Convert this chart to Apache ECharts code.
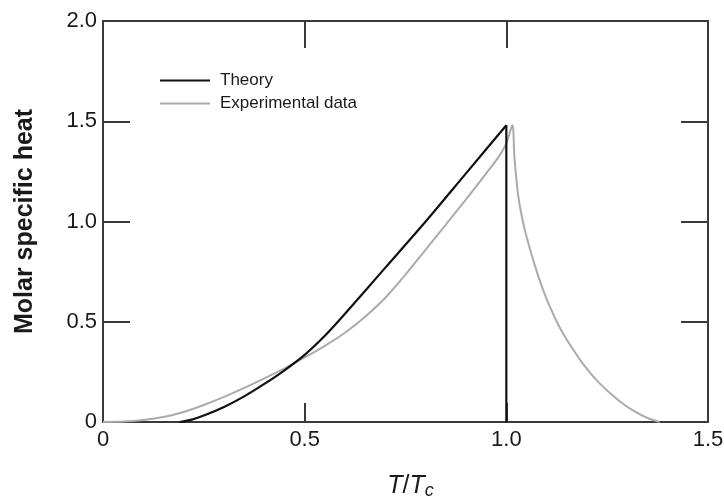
<!DOCTYPE html>
<html>
<head>
<meta charset="utf-8">
<script src="https://cdn.jsdelivr.net/npm/echarts@6/dist/echarts.min.js"></script>
<style>
  html, body { margin: 0; padding: 0; background: #fff; }
  #chart { width: 724px; height: 497px; }
</style>
</head>
<body>
<div id="chart"></div>
<script>
// Reduced temperature T/Tc and molar specific heat values
const theoryX = [0.19, 0.22, 0.25, 0.30, 0.35, 0.40, 0.45, 0.50, 0.55, 0.60, 0.70, 0.80, 0.90, 1.00];
const theoryY = [0.00, 0.012, 0.032, 0.075, 0.128, 0.19, 0.258, 0.335, 0.43, 0.54, 0.77, 1.00, 1.24, 1.48];
// Jump of the theoretical curve at T = Tc
const theoryJumpX = [1.00, 1.00];
const theoryJumpY = [1.48, 0.00];

const expX = [0.00, 0.05, 0.10, 0.15, 0.20, 0.25, 0.30, 0.35, 0.40, 0.45, 0.50, 0.55, 0.60, 0.65, 0.70, 0.75, 0.80, 0.85, 0.90, 0.95, 0.98, 1.00, 1.015,
              1.02, 1.03, 1.04, 1.05, 1.07, 1.09, 1.11, 1.13, 1.15, 1.19, 1.23, 1.28, 1.32, 1.35, 1.38];
const expY = [0.00, 0.002, 0.01, 0.025, 0.05, 0.085, 0.125, 0.17, 0.218, 0.268, 0.322, 0.38, 0.445, 0.525, 0.62, 0.735, 0.86, 0.985, 1.11, 1.24, 1.32, 1.39, 1.48,
              1.32, 1.12, 1.01, 0.925, 0.785, 0.665, 0.565, 0.48, 0.41, 0.29, 0.195, 0.105, 0.05, 0.02, 0.00];

const xTickLabels = ['0', '0.5', '1.0', '1.5'];
const yTickLabels = ['0', '0.5', '1.0', '1.5', '2.0'];

const seriesNames = ['Theory', 'Experimental data'];

const pair = (xs, ys) => xs.map((x, i) => [x, ys[i]]);

const frameColor = '#3a3a3a';
const textColor = '#1a1a1a';
const theoryColor = '#111111';
const expColor = '#ababab';
const font = 'Liberation Sans, Arial, sans-serif';

const chart = echarts.init(document.getElementById('chart'), null, { renderer: 'canvas' });

chart.setOption({
  animation: false,
  backgroundColor: '#ffffff',
  grid: { left: 103, right: 16, top: 21, bottom: 75, show: false, containLabel: false, outerBoundsMode: 'none' },
  legend: {
    orient: 'vertical',
    left: 160,
    top: 72,
    padding: 0,
    icon: 'rect',
    itemWidth: 50,
    itemHeight: 2,
    itemGap: 6,
    textStyle: { fontFamily: font, fontSize: 17, color: textColor, padding: [0, 0, 0, 5] },
    data: seriesNames
  },
  xAxis: [
    {
      type: 'value', position: 'bottom', min: 0, max: 1.5, interval: 0.5,
      axisLine: { show: true, onZero: false, lineStyle: { color: frameColor, width: 2 } },
      axisTick: { show: true, inside: true, length: 19, lineStyle: { color: frameColor, width: 2 } },
      splitLine: { show: false },
      axisLabel: {
        margin: 7, fontFamily: font, fontSize: 22, color: textColor,
        formatter: v => xTickLabels[Math.round(v / 0.5)]
      },
      name: '{i|T}{n|/}{i|T}{s|c}',
      nameLocation: 'middle',
      nameGap: 50,
      nameTextStyle: {
        padding: [0, 0, 0, 10],
        rich: {
          i: { fontFamily: font, fontSize: 25, fontStyle: 'italic', color: textColor },
          n: { fontFamily: font, fontSize: 25, color: textColor },
          s: { fontFamily: font, fontSize: 18, fontStyle: 'italic', color: textColor, verticalAlign: 'bottom', padding: [10, 0, 0, 0] }
        }
      }
    },
    {
      type: 'value', position: 'top', min: 0, max: 1.5, interval: 0.5,
      axisLine: { show: true, onZero: false, lineStyle: { color: frameColor, width: 2 } },
      axisTick: { show: true, inside: true, length: 27, lineStyle: { color: frameColor, width: 2 } },
      axisLabel: { show: false },
      splitLine: { show: false }
    }
  ],
  yAxis: [
    {
      type: 'value', position: 'left', min: 0, max: 2.0, interval: 0.5,
      axisLine: { show: true, onZero: false, lineStyle: { color: frameColor, width: 2 } },
      axisTick: { show: true, inside: true, length: 27, lineStyle: { color: frameColor, width: 2 } },
      splitLine: { show: false },
      axisLabel: {
        margin: 6, fontFamily: font, fontSize: 22, color: textColor,
        formatter: v => yTickLabels[Math.round(v / 0.5)]
      },
      name: 'Molar specific heat',
      nameLocation: 'middle',
      nameGap: 65,
      nameRotate: 90,
      nameTextStyle: { fontFamily: font, fontSize: 25, fontWeight: 'bold', color: textColor }
    },
    {
      type: 'value', position: 'right', min: 0, max: 2.0, interval: 0.5,
      axisLine: { show: true, onZero: false, lineStyle: { color: frameColor, width: 2 } },
      axisTick: { show: true, inside: true, length: 27, lineStyle: { color: frameColor, width: 2 } },
      axisLabel: { show: false },
      splitLine: { show: false }
    }
  ],
  series: [
    {
      name: seriesNames[0],
      type: 'line',
      data: pair(theoryX, theoryY),
      smooth: 0.3,
      symbol: 'none',
      lineStyle: { color: theoryColor, width: 2.2 },
      itemStyle: { color: theoryColor },
      z: 3
    },
    {
      name: seriesNames[0],
      type: 'line',
      data: pair(theoryJumpX, theoryJumpY),
      symbol: 'none',
      lineStyle: { color: theoryColor, width: 2.2 },
      itemStyle: { color: theoryColor },
      z: 3
    },
    {
      name: seriesNames[1],
      type: 'line',
      data: pair(expX, expY),
      smooth: 0.3,
      symbol: 'none',
      lineStyle: { color: expColor, width: 2 },
      itemStyle: { color: expColor },
      z: 2
    }
  ]
});
</script>
</body>
</html>
